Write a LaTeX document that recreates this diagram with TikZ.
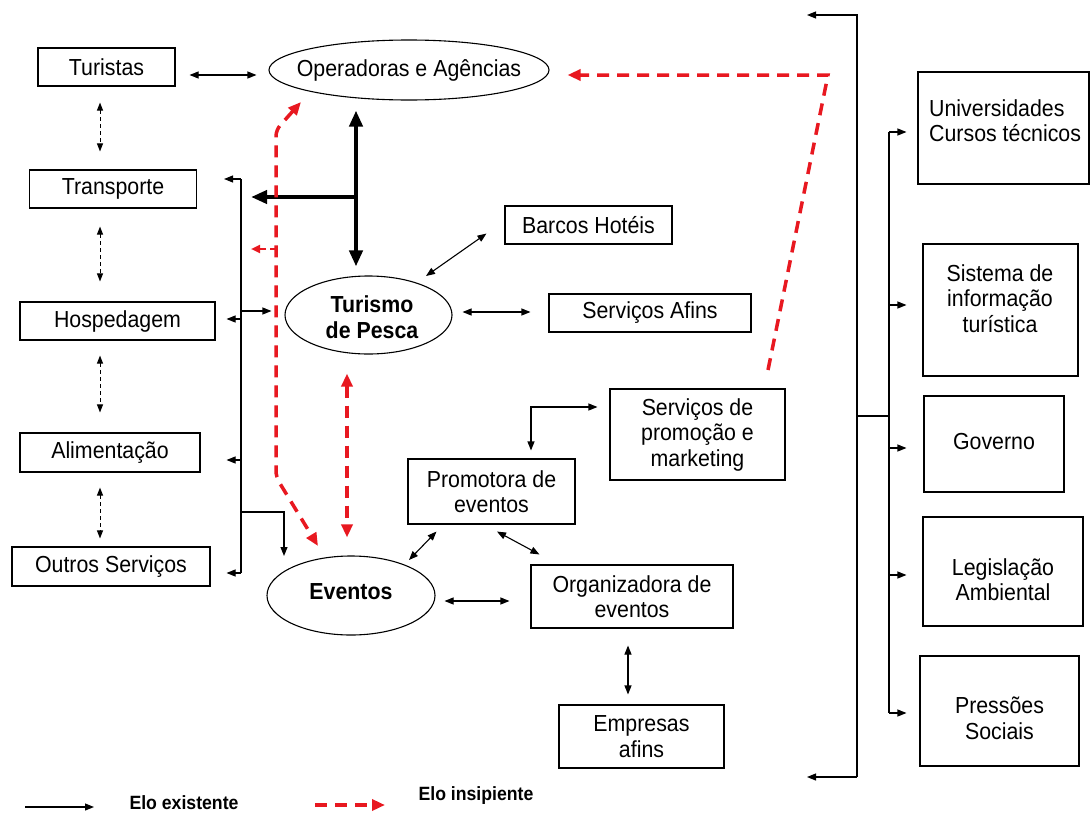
\documentclass[tikz,border=0pt]{standalone}
\usepackage{fontspec}
\setmainfont{Liberation Sans}[FakeStretch=0.92]
\usetikzlibrary{arrows.meta,shapes.geometric,calc}
\definecolor{rdc}{RGB}{232,24,32}
\newcommand\dgfont{\fontsize{23.2}{25.5}\selectfont}
\newcommand\lgfont{\fontsize{19.2}{21}\selectfont\bfseries}
\begin{document}
\begin{tikzpicture}[x=1pt,y=-1pt,
  box/.style={draw, line width=1.1pt, rectangle, inner sep=0pt, align=center, font=\dgfont},
  ell/.style={draw, line width=1.1pt, ellipse, inner sep=0pt},
  txt/.style={inner sep=0pt, align=center, font=\dgfont},
  btxt/.style={inner sep=0pt, align=center, font=\dgfont\bfseries},
  lnk/.style={line width=1.1pt},
  arr/.style={line width=1.1pt, -{Triangle[length=9pt,width=7pt]}},
  dbl/.style={line width=1.1pt, {Triangle[length=9pt,width=7pt]}-{Triangle[length=9pt,width=7pt]}},
  ddash/.style={line width=1pt, dash pattern=on 4pt off 3pt, {Triangle[length=8pt,width=6pt]}-{Triangle[length=8pt,width=6pt]}},
  thk/.style={line width=4pt, -{Triangle[length=16pt,width=13pt]}},
  thkd/.style={line width=4pt, {Triangle[length=16pt,width=13pt]}-{Triangle[length=16pt,width=13pt]}},
  rdash/.style={draw=rdc, line width=3.5pt, dash pattern=on 12pt off 8pt, -{Triangle[length=13pt,width=11pt]}},
  rdashd/.style={draw=rdc, line width=3.5pt, dash pattern=on 12pt off 8pt, {Triangle[length=13pt,width=11pt]}-{Triangle[length=13pt,width=11pt]}},
  rsmall/.style={draw=rdc, line width=2pt, dash pattern=on 6pt off 4pt, -{Triangle[length=9pt,width=8pt]}},
  lt/.style={inner sep=0pt, font=\lgfont}
]
\useasboundingbox (0,0) rectangle (1090,814);
\fill[white] (0,0) rectangle (1090,814);

% ---- nodes
\node[box, minimum width=137pt, minimum height=38pt] (tur) at (106.5,67) {Turistas};
\node[ell, minimum width=280pt, minimum height=60pt] (ope) at (409,70) {};
\node[txt] at (ope) {Operadoras e Agências};
\node[box, minimum width=167pt, minimum height=38pt] (tra) at (113,189) {Transporte};
\node[box, minimum width=195pt, minimum height=38pt] (hos) at (117.5,321) {Hospedagem};
\node[box, minimum width=180pt, minimum height=39pt] (ali) at (110,452.5) {Alimentação};
\node[box, minimum width=198pt, minimum height=39pt] (out) at (111,566.5) {Outros Serviços};
\node[ell, minimum width=167pt, minimum height=78pt] (tp) at (368.5,315) {};
\node[btxt] at (372,317) {Turismo\\de Pesca};
\node[ell, minimum width=168pt, minimum height=79pt] (ev) at (351,595.5) {};
\node[btxt] at (351,592) {Eventos};
\node[box, minimum width=167pt, minimum height=38pt] (bar) at (588.5,225) {Barcos Hotéis};
\node[box, minimum width=202pt, minimum height=38pt] (saf) at (650,313) {Serviços Afins};
\node[box, minimum width=175pt, minimum height=91pt] (spm) at (697.5,434.5) {Serviços de\\promoção e\\marketing};
\node[box, minimum width=167pt, minimum height=65pt] (pro) at (491.5,491.5) {Promotora de\\eventos};
\node[box, minimum width=202pt, minimum height=63pt] (org) at (632,596.5) {Organizadora de\\eventos};
\node[box, minimum width=165pt, minimum height=63pt] (emp) at (641.5,736.5) {Empresas\\afins};

\node[box, minimum width=171pt, minimum height=112pt] (uni) at (1003.5,128) {};
\node[txt, align=left, anchor=west] at (929,120.5) {Universidades\\Cursos técnicos};
\node[box, minimum width=155pt, minimum height=132pt] (sis) at (1000.5,310) {};
\node[txt] at (1000,298.5) {Sistema de\\informação\\turística};
\node[box, minimum width=140pt, minimum height=96pt] (gov) at (994,444) {};
\node[txt] at (994,442) {Governo};
\node[box, minimum width=160pt, minimum height=109pt] (leg) at (1003,571.5) {};
\node[txt] at (1003,579.5) {Legislação\\Ambiental};
\node[box, minimum width=159pt, minimum height=110pt] (pre) at (999.5,711) {};
\node[txt] at (999.5,718.5) {Pressões\\Sociais};

% ---- left column links
\draw[dbl, shorten <=14pt, shorten >=12pt] ([yshift=-8pt]tur.east) -- ([yshift=-5pt]ope.west);
\coordinate (cl) at (100,0);
\draw[ddash, shorten <=16pt, shorten >=18pt] (tur.south -| cl) -- (tra.north -| cl);
\draw[ddash, shorten <=18pt, shorten >=20pt] (tra.south -| cl) -- (hos.north -| cl);
\draw[ddash, shorten <=15pt, shorten >=20pt] (hos.south -| cl) -- (ali.north -| cl);
\draw[ddash, shorten <=15pt, shorten >=8pt] (ali.south -| cl) -- (out.north -| cl);

% ---- bus
\coordinate (b1) at (241,179);
\coordinate (b2) at (241,319);
\coordinate (b3) at (241,460);
\coordinate (b4) at (241,573);
\coordinate (bq) at (241,311);
\coordinate (be) at (241,512);
\coordinate (evt) at (284,556);
\draw[lnk] (b1) -- (b4);
\draw[arr, shorten >=27pt] (b1) -- (tra.east |- b1);
\draw[arr, shorten >=11pt] (b2) -- (hos.east |- b2);
\draw[arr, shorten >=26pt] (b3) -- (ali.east |- b3);
\draw[arr, shorten >=16pt] (b4) -- (out.east |- b4);
\draw[arr, shorten >=13pt] (bq) -- (tp.west |- bq);
\draw[arr] (be) -| (evt);

% ---- thick links
\coordinate (tk) at (356,197);
\draw[thkd, shorten <=10pt, shorten >=9pt] (ope.south -| tk) -- (tp.north -| tk);
\draw[thk, shorten >=54pt] (tk) -- (tra.east |- tk);

% ---- red dashed links
\coordinate (r1) at (301,102);
\coordinate (r2) at (276,130);
\coordinate (r3) at (276,477);
\coordinate (r4) at (318,546);
\draw[rdashd, rounded corners=6pt] (r1) -- (r2) -- (r3) -- (r4);
\coordinate (rs) at (276,249);
\draw[rsmall, shorten >=54pt] (rs) -- (tra.east |- rs);
\coordinate (rv) at (347,0);
\draw[rdashd, shorten <=19pt, shorten >=18pt] (tp.south -| rv) -- (ev.north -| rv);
\coordinate (rst) at (768,370);
\coordinate (rc) at (828,75);
\draw[rdash, shorten >=18pt] (rst) -- (rc) -- ([yshift=-5pt]ope.east);

% ---- middle links
\draw[dbl] ([shift={(57.5,-39)}]tp.center) -- ([shift={(-18,-11)}]bar.south west);
\draw[dbl, shorten <=10pt, shorten >=18pt] ([yshift=3pt]tp.east) -- ([yshift=1pt]saf.west);
\coordinate (ec) at (531,407);
\draw[dbl, shorten <=12pt, shorten >=8pt] (spm.west |- ec) -- (ec) -- (pro.north -| ec);
\draw[dbl] ([shift={(58,-35.5)}]ev.center) -- ([shift={(29,7)}]pro.south west);
\draw[dbl] ([shift={(5.5,7)}]pro.south) -- ([shift={(9,-10)}]org.north west);
\draw[dbl, shorten <=9pt, shorten >=21pt] ([yshift=-5.5pt]ev.east) -- ([yshift=-4.5pt]org.west);
\coordinate (oe) at (628,0);
\draw[dbl, shorten <=17pt, shorten >=10pt] (org.south -| oe) -- (emp.north -| oe);

% ---- right bracket
\coordinate (k1) at (857,15);
\coordinate (k2) at (857,777);
\coordinate (kl1) at (807,15);
\coordinate (kl2) at (807,777);
\coordinate (kj) at (857,416);
\coordinate (kv) at (889,416);
\coordinate (kt) at (889,132);
\coordinate (kb) at (889,713);
\coordinate (a2) at (889,305);
\coordinate (a3) at (889,448);
\coordinate (a4) at (889,575);
\draw[arr] (k2) -- (k1) -- (kl1);
\draw[arr] (k2) -- (kl2);
\draw[lnk] (kj) -- (kv);
\draw[lnk] (kt) -- (kb);
\draw[arr, shorten >=11pt] (kt) -- (uni.west |- kt);
\draw[arr, shorten >=16pt] (a2) -- (sis.west |- a2);
\draw[arr, shorten >=17pt] (a3) -- (gov.west |- a3);
\draw[arr, shorten >=16pt] (a4) -- (leg.west |- a4);
\draw[arr, shorten >=13pt] (kb) -- (pre.west |- kb);

% ---- legend
\coordinate (l1) at (25,807);
\coordinate (l2) at (94,807);
\draw[arr] (l1) -- (l2);
\node[lt] (lg1) at (184,803) {Elo existente};
\coordinate (l3) at (315,805);
\coordinate (l4) at (385,805);
\draw[rdash] (l3) -- (l4);
\node[lt] (lg2) at (476,796) {Elo insipiente};
\end{tikzpicture}
\end{document}
